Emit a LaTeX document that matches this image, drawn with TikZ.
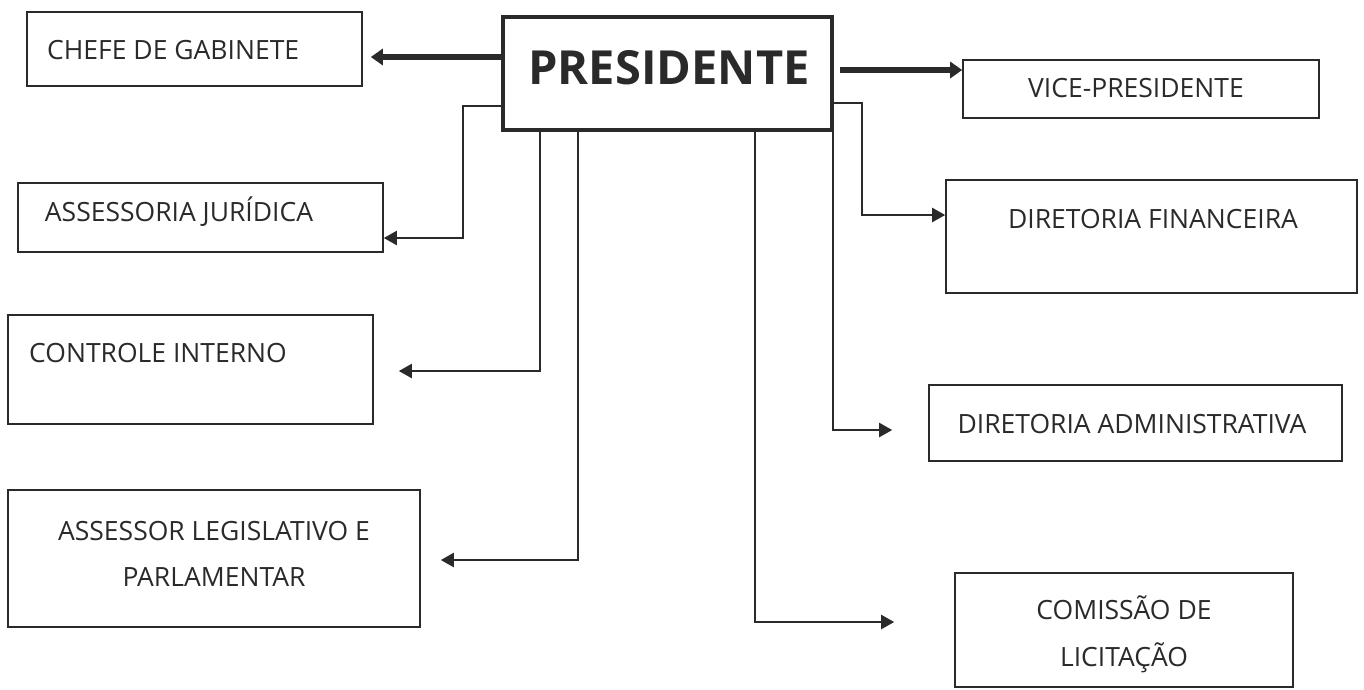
\documentclass[tikz,border=0pt]{standalone}
\usepackage{fontspec}
\setmainfont{Open Sans}
\usetikzlibrary{arrows.meta,calc}
\definecolor{ink}{HTML}{2A2A2A}
\begin{document}
\begin{tikzpicture}[x=1pt,y=-1pt,
  box/.style={draw=ink,line width=1.6pt,minimum width=#1,inner sep=0pt},
  txt/.style={text=ink,font=\fontsize{26.5}{30}\selectfont,inner sep=0pt},
  conn/.style={draw=ink,line width=2.2pt,-{Triangle[length=13pt,width=14pt]}},
  thick conn/.style={draw=ink,line width=5.5pt,-{Triangle[length=12pt,width=16pt]}}]
\useasboundingbox[fill=white] (0,0) rectangle (1364,689);
% boxes
\node[draw=ink,line width=4pt,minimum width=329pt,minimum height=113pt,inner sep=0pt] (pres) at (667.5,73.5) {};
\node[box=335pt,minimum height=74pt] (chefe) at (194.5,49) {};
\node[box=356pt,minimum height=58pt] (vice) at (1141,89) {};
\node[box=365pt,minimum height=69pt] (ajur) at (200.5,217.5) {};
\node[box=411pt,minimum height=113pt] (dfin) at (1151.5,236.5) {};
\node[box=365pt,minimum height=109pt] (ctrl) at (190.5,369.5) {};
\node[box=413pt,minimum height=76pt] (dadm) at (1135.5,423) {};
\node[box=412pt,minimum height=137pt] (aleg) at (214,558.5) {};
\node[box=338pt,minimum height=114pt] (com) at (1124,630) {};
% texts
\node[txt,font=\fontsize{47}{50}\selectfont\bfseries] (presT) at (669,68) {PRESIDENTE};
\node[txt,anchor=west] (chefeT) at (47,50) {CHEFE DE GABINETE};
\node[txt] (viceT) at (1136,88) {VICE-PRESIDENTE};
\node[txt] (ajurT) at (179,212) {ASSESSORIA JURÍDICA};
\node[txt] (dfinT) at (1153,219) {DIRETORIA FINANCEIRA};
\node[txt,anchor=west] (ctrlT) at (29,353) {CONTROLE INTERNO};
\node[txt] (dadmT) at (1132,424) {DIRETORIA ADMINISTRATIVA};
\node[txt,align=center,font=\fontsize{26.5}{46}\selectfont] (alegT) at (214,554) {ASSESSOR LEGISLATIVO E\\PARLAMENTAR};
\node[txt,align=center,font=\fontsize{26.5}{47}\selectfont] (comT) at (1124,634) {COMISSÃO DE\\LICITAÇÃO};
% connectors
\draw[thick conn] (pres.west |- 0,57) -- ($(chefe.east |- 0,57)+(8,0)$);
\draw[thick conn] ($(pres.east |- 0,70)+(6,0)$) -- (vice.west |- 0,70);
\draw[conn] (pres.west |- 0,106) -| (463,238) -- (ajur.east |- 0,238);
\draw[conn] (540,0 |- pres.south) |- ($(ctrl.east |- 0,371)+(25,0)$);
\draw[conn] (578,0 |- pres.south) |- ($(aleg.east |- 0,560)+(20,0)$);
\draw[conn] (pres.east |- 0,103) -| (862,215) -- (dfin.west |- 0,215);
\draw[conn] (833,0 |- pres.south) |- ($(dadm.west |- 0,430)+(-36,0)$);
\draw[conn] (755,0 |- pres.south) |- ($(com.west |- 0,622)+(-60,0)$);
\end{tikzpicture}
\end{document}
